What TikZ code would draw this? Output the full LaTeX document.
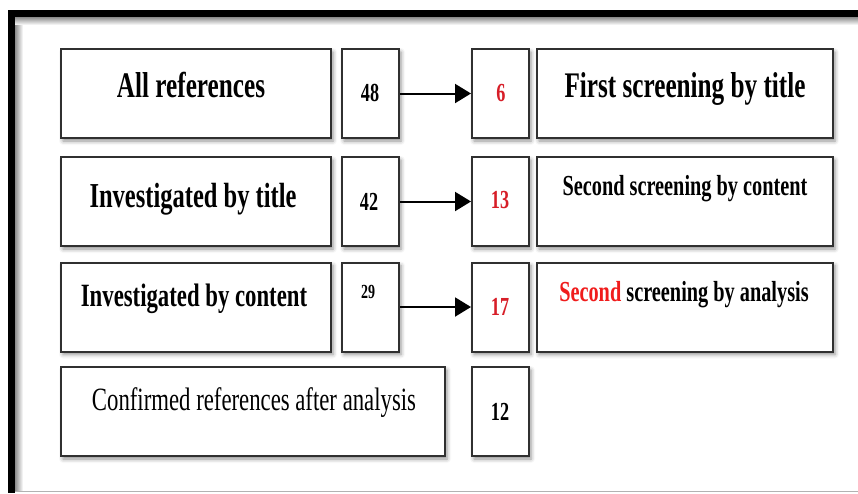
\documentclass[tikz,border=0pt]{standalone}
\usepackage{fontspec}
\setmainfont{Liberation Serif}[FakeStretch=0.7]
\usetikzlibrary{arrows.meta,shadows.blur}

\definecolor{numred}{RGB}{215,30,40}
\definecolor{wordred}{RGB}{240,28,28}
\definecolor{edgegray}{RGB}{48,48,48}

\tikzset{
  box/.style={draw=edgegray, line width=2pt, fill=white, inner sep=0pt,
    anchor=north west, minimum height=89pt,
    blur shadow={shadow xshift=2pt, shadow yshift=-3pt,
      shadow blur radius=4pt, shadow opacity=45}},
  wide/.style={box, minimum width=270pt},
  narrow/.style={box, minimum width=57pt},
  screen/.style={box, minimum width=296pt},
  lbl/.style={anchor=base, inner sep=0pt,
    font=\bfseries\fontsize{#1}{#1}\selectfont},
  plain/.style={anchor=base, inner sep=0pt,
    font=\fontsize{#1}{#1}\selectfont},
  flow/.style={line width=2pt, -{Triangle[length=16pt,width=19pt]}}
}

\begin{document}
\begin{tikzpicture}[x=1pt,y=-1pt]
  \useasboundingbox (0,0) rectangle (858,493);

  % frame with its inner shade
  \shade[top color=black!45, bottom color=white] (15,17) rectangle (858,25);
  \shade[left color=black!45, right color=white] (15,25) rectangle (23,490);
  \fill[black] (8,10) rectangle (858,17);
  \fill[black] (8,10) rectangle (15,493);
  \draw[black!30, line width=1.5pt] (15,491.5) -- (858,491.5);

  % row 1
  \node[wide]   (a1) at (60,48)  {};
  \node[narrow] (n1) at (341,48) {};
  \node[narrow] (r1) at (471,48) {};
  \node[screen] (s1) at (536,48) {};
  % row 2
  \node[wide]   (a2) at (60,156)  {};
  \node[narrow] (n2) at (341,156) {};
  \node[narrow] (r2) at (471,156) {};
  \node[screen] (s2) at (536,156) {};
  % row 3
  \node[wide]   (a3) at (60,261.5)  {};
  \node[narrow] (n3) at (341,261.5) {};
  \node[narrow] (r3) at (471,261.5) {};
  \node[screen] (s3) at (536,261.5) {};
  % row 4
  \node[box, minimum width=384pt] (a4) at (60,366) {};
  \node[narrow] (r4) at (471,366) {};

  % connectors
  \draw[flow] (n1.east) -- (r1.west);
  \draw[flow] (n2.east) -- (r2.west);
  \draw[flow] (n3.east) -- (r3.west);

  % labels
  \node[lbl=36] (ta1) at (191,97)  {All references};
  \node[lbl=35] (ta2) at (193,207) {Investigated by title};
  \node[lbl=32.5] (ta3) at (194,306) {Investigated by content};
  \node[plain=32.5] (ta4) at (254,410) {Confirmed references after analysis};

  \node[lbl=26] (tn1) at (370,101) {48};
  \node[lbl=26] (tn2) at (369,210) {42};
  \node[lbl=20] (tn3) at (368,298) {29};

  \node[lbl=26, text=numred] (tr1) at (501,101) {6};
  \node[lbl=26, text=numred] (tr2) at (500,208) {13};
  \node[lbl=26, text=numred] (tr3) at (500,315) {17};
  \node[lbl=26] (tr4) at (500,420) {12};

  \node[lbl=36] (ts1) at (685,97)  {First screening by title};
  \node[lbl=29] (ts2) at (685,195) {Second screening by content};
  \node[lbl=29] (ts3) at (684,301) {\textcolor{wordred}{Second} screening by analysis};
\end{tikzpicture}
\end{document}
